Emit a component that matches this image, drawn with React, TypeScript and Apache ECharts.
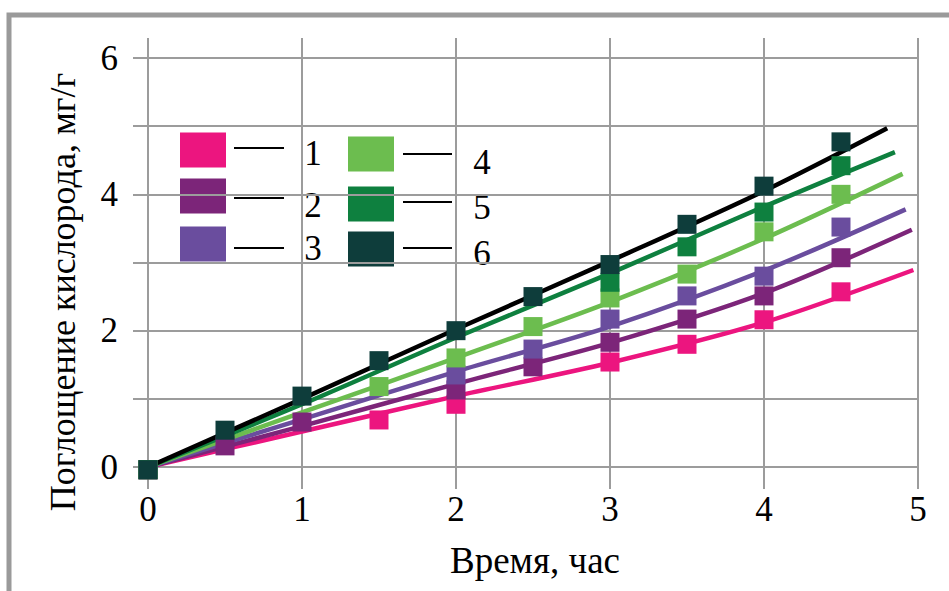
import React, { useEffect, useRef } from "react";
import * as echarts from "echarts";

const times = [0, 0.5, 1, 1.5, 2, 2.5, 3, 3.5, 4, 4.5];
const seriesNames = ["1", "2", "3", "4", "5", "6"];
const markerColors = ["#EC157F", "#7C2579", "#6A4D9E", "#6CBD4F", "#0E803F", "#0E3D3B"];
const lineColors = ["#EC157F", "#7C2579", "#6A4D9E", "#6CBD4F", "#0E803F", "#000000"];

const s1 = [-0.04, null, null, 0.69, 0.92, null, 1.54, 1.8, 2.16, 2.57];
const s2 = [-0.04, 0.31, 0.66, null, 1.13, 1.47, 1.83, 2.17, 2.51, 3.07];
const s3 = [-0.04, null, null, null, 1.35, 1.73, 2.17, 2.51, 2.8, 3.52];
const s4 = [-0.04, null, null, 1.18, 1.6, 2.06, 2.48, 2.83, 3.45, 4.0];
const s5 = [-0.04, null, null, null, null, null, 2.71, 3.23, 3.74, 4.42];
const s6 = [-0.04, 0.54, 1.04, 1.56, 2.0, 2.5, 2.97, 3.56, 4.12, 4.77];
const markerSeries = [s1, s2, s3, s4, s5, s6];

const fitX1 = [0, 1, 2, 3, 4, 4.97];
const fitY1 = [0, 0.52, 1.04, 1.53, 2.12, 2.89];
const fitX2 = [0, 1, 2, 3, 4, 4.96];
const fitY2 = [0, 0.6, 1.22, 1.82, 2.55, 3.48];
const fitX3 = [0, 1, 2, 3, 4, 4.92];
const fitY3 = [0, 0.7, 1.4, 2.06, 2.88, 3.78];
const fitX4 = [0, 1, 2, 3, 4, 4.9];
const fitY4 = [0, 0.8, 1.6, 2.42, 3.35, 4.3];
const fitX5 = [0, 1, 2, 3, 4, 4.85];
const fitY5 = [0, 0.92, 1.9, 2.84, 3.82, 4.62];
const fitX6 = [0, 1, 2, 3, 4, 4.8];
const fitY6 = [0, 1.0, 2.02, 3.02, 4.05, 4.97];
const fitXs = [fitX1, fitX2, fitX3, fitX4, fitX5, fitX6];
const fitYs = [fitY1, fitY2, fitY3, fitY4, fitY5, fitY6];

const yLabelValues = [0, 2, 4, 6];
const xTitle = "Время, час";
const yTitle = "Поглощение кислорода, мг/г";

const FONT = "'Liberation Serif', 'Times New Roman', serif";
const GRID_COLOR = "#9c9c9c";

export default function App() {
  const ref = useRef<HTMLDivElement>(null);
  useEffect(() => {
    if (!ref.current) return;
    const chart = echarts.init(ref.current, undefined, { renderer: "svg" });

    const lineSeries = fitXs.map((xs, i) => ({
      type: "line",
      name: seriesNames[i] + " fit",
      data: xs.map((x, j) => [x, fitYs[i][j]]),
      symbol: "none",
      smooth: 0.3,
      lineStyle: { color: lineColors[i], width: 4.5 },
      z: 2,
      silent: true,
    }));
    const scatterSeries = markerSeries.map((vals, i) => ({
      type: "scatter",
      name: seriesNames[i],
      data: times
        .map((t, j) => (vals[j] === null ? null : [t, vals[j]]))
        .filter((p) => p !== null),
      symbol: "rect",
      symbolSize: 19,
      clip: false,
      itemStyle: { color: markerColors[i], opacity: 1 },
      z: 3 + i,
    }));

    const legendCols = [
      { sqX: 180, lineX1: 234, lineX2: 284, numX: 313, rows: [150, 196, 244], lineYs: [148, 198, 248], numYs: [153, 205, 248] },
      { sqX: 348, lineX1: 403, lineX2: 452, numX: 482, rows: [154, 204, 249], lineYs: [154, 202, 248], numYs: [162, 207, 253] },
    ];
    const legendEls: any[] = [];
    seriesNames.forEach((name, i) => {
      const col = legendCols[Math.floor(i / 3)];
      const r = i % 3;
      legendEls.push({
        type: "rect",
        shape: { x: col.sqX, y: col.rows[r] - 17.5, width: 46, height: 35 },
        style: { fill: markerColors[i] },
      });
      legendEls.push({
        type: "line",
        shape: { x1: col.lineX1, y1: col.lineYs[r], x2: col.lineX2, y2: col.lineYs[r] },
        style: { stroke: "#000", lineWidth: 2 },
      });
      legendEls.push({
        type: "text",
        x: col.numX,
        y: col.numYs[r],
        style: {
          text: name,
          font: `35px ${FONT}`,
          fill: "#000",
          align: "center",
          verticalAlign: "middle",
        },
      });
    });

    chart.setOption({
      animation: false,
      backgroundColor: "#ffffff",
      grid: { left: 148, top: 58, width: 770, height: 409 },
      xAxis: [
        {
          type: "value",
          min: 0,
          max: 5,
          interval: 1,
          axisLine: { show: true, lineStyle: { color: GRID_COLOR, width: 2 } },
          axisTick: { show: true, length: 22, lineStyle: { color: GRID_COLOR, width: 2 } },
          axisLabel: { fontSize: 35, fontFamily: FONT, color: "#000", margin: 25 },
          splitLine: { show: true, lineStyle: { color: GRID_COLOR, width: 2 } },
        },
        {
          type: "value",
          position: "top",
          min: 0,
          max: 5,
          interval: 1,
          axisLine: { show: false },
          axisTick: { show: true, length: 20, lineStyle: { color: GRID_COLOR, width: 2 } },
          axisLabel: { show: false },
          splitLine: { show: false },
        },
      ],
      yAxis: {
        type: "value",
        min: 0,
        max: 6,
        interval: 1,
        axisLine: { show: true, lineStyle: { color: GRID_COLOR, width: 2 } },
        axisTick: { show: true, length: 15, lineStyle: { color: GRID_COLOR, width: 2 } },
        axisLabel: {
          fontSize: 35,
          fontFamily: FONT,
          color: "#000",
          margin: 30,
          formatter: (v: number) => (yLabelValues.includes(v) ? String(v) : ""),
        },
        splitLine: { show: true, lineStyle: { color: GRID_COLOR, width: 2 } },
      },
      graphic: [
        {
          type: "rect",
          shape: { x: 9, y: 15, width: 1000, height: 700 },
          style: { fill: "none", stroke: "#9a9a9a", lineWidth: 5 },
          silent: true,
        },
        {
          type: "text",
          x: 63,
          y: 292,
          rotation: Math.PI / 2,
          style: {
            text: yTitle,
            font: `36px ${FONT}`,
            fill: "#000",
            align: "center",
            verticalAlign: "middle",
          },
        },
        {
          type: "text",
          x: 535,
          y: 560,
          style: {
            text: xTitle,
            font: `37px ${FONT}`,
            fill: "#000",
            align: "center",
            verticalAlign: "middle",
          },
        },
        ...legendEls,
      ],
      series: [...lineSeries, ...scatterSeries],
    });
    return () => chart.dispose();
  }, []);
  return (
    <div
      ref={ref}
      style={{ position: "fixed", left: 0, top: 0, width: 949, height: 591, background: "#fff" }}
    />
  );
}
